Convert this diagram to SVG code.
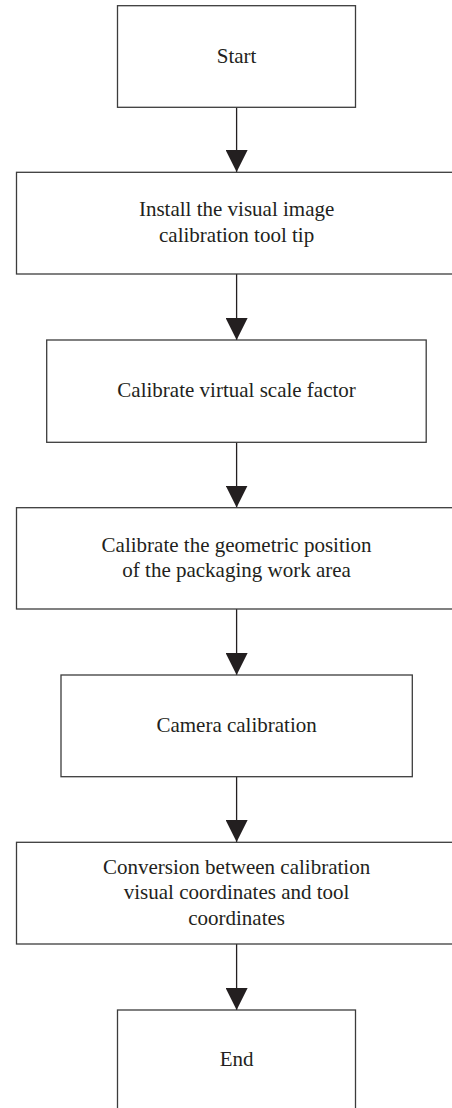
<svg xmlns="http://www.w3.org/2000/svg" width="452" height="1108" viewBox="0 0 452 1108">
<style>
.box{fill:#fff;stroke:#3c3c3c;stroke-width:1.3}
.lbl{font-family:"Liberation Serif","Times New Roman",serif;font-size:21px;fill:#231f20;text-anchor:middle}
.conn{stroke:#231f20;stroke-width:1.3;fill:none}
</style>
<defs>
<marker id="ah" markerUnits="userSpaceOnUse" markerWidth="22" markerHeight="22" refX="21" refY="10.5" orient="auto" viewBox="0 0 21 21">
<path d="M0,0 L21,10.5 L0,21 z" fill="#231f20"/>
</marker>
</defs>
<rect width="452" height="1108" fill="#fff"/>
<g id="connectors">
<line class="conn" x1="236.6" y1="107.3" x2="236.6" y2="172" marker-end="url(#ah)"/>
<line class="conn" x1="236.6" y1="274" x2="236.6" y2="340" marker-end="url(#ah)"/>
<line class="conn" x1="236.6" y1="442.3" x2="236.6" y2="507.5" marker-end="url(#ah)"/>
<line class="conn" x1="236.6" y1="609" x2="236.6" y2="675" marker-end="url(#ah)"/>
<line class="conn" x1="236.6" y1="776.7" x2="236.6" y2="842" marker-end="url(#ah)"/>
<line class="conn" x1="236.6" y1="944" x2="236.6" y2="1010" marker-end="url(#ah)"/>
</g>
<g id="start">
<rect class="box" x="117.5" y="5.7" width="238" height="101.6"/>
<text class="lbl" x="236.6" y="62.5">Start</text>
</g>
<g id="install">
<rect class="box" x="16.5" y="172.3" width="440" height="101.7"/>
<text class="lbl" x="236.6" y="216">Install the visual image</text>
<text class="lbl" x="236.6" y="242">calibration tool tip</text>
</g>
<g id="scale">
<rect class="box" x="46.7" y="340" width="379.5" height="102.3"/>
<text class="lbl" x="236.6" y="397">Calibrate virtual scale factor</text>
</g>
<g id="geometric">
<rect class="box" x="16.5" y="507.7" width="440" height="101.3"/>
<text class="lbl" x="236.6" y="551.7">Calibrate the geometric position</text>
<text class="lbl" x="236.6" y="576.7">of the packaging work area</text>
</g>
<g id="camera">
<rect class="box" x="61" y="675" width="351.3" height="101.7"/>
<text class="lbl" x="236.6" y="731.7">Camera calibration</text>
</g>
<g id="conversion">
<rect class="box" x="16.5" y="842.3" width="440" height="101.7"/>
<text class="lbl" x="236.6" y="873.5">Conversion between calibration</text>
<text class="lbl" x="236.6" y="899">visual coordinates and tool</text>
<text class="lbl" x="236.6" y="924.5">coordinates</text>
</g>
<g id="end">
<rect class="box" x="117.5" y="1010" width="238" height="110"/>
<text class="lbl" x="236.6" y="1066">End</text>
</g>
</svg>
